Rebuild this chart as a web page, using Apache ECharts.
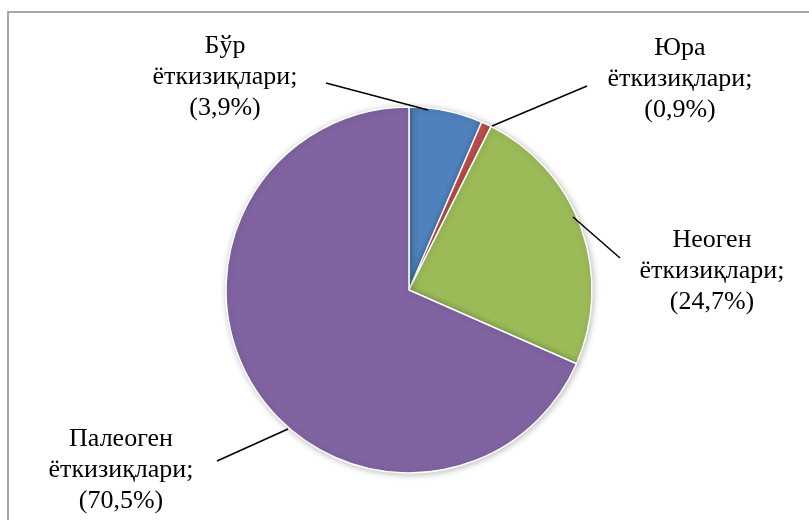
<!DOCTYPE html>
<html>
<head>
<meta charset="utf-8">
<script src="https://cdn.jsdelivr.net/npm/echarts@6/dist/echarts.min.js"></script>
<style>
  html, body { margin: 0; padding: 0; background: #fff; }
  #chart { width: 809px; height: 520px; }
</style>
</head>
<body>
<div id="chart"></div>
<script>
// slice names and label texts
var names = ['Бўр', 'Юра', 'Неоген', 'Палеоген'];
var suffix = 'ёткизиқлари;';
var pctText = ['(3,9%)', '(0,9%)', '(24,7%)', '(70,5%)'];
// slice sizes as drawn in the picture
var values = [6.5, 0.9, 24.2, 68.4];
var colors = ['#4F81BD', '#C0504D', '#9BBB59', '#8064A2'];

// label centres and leader lines (pie end first)
var labelPos = [[225, 77], [680, 79], [712, 271], [121, 470]];
var leaders = [
  [[428, 110], [326, 83]],
  [[492, 126], [587, 86]],
  [[573, 217], [620, 258]],
  [[288, 429], [217, 461]]
];

var chart = echarts.init(document.getElementById('chart'));

var graphics = [{
  type: 'rect',
  shape: { x: 8, y: 12, width: 820, height: 530 },
  style: { fill: 'none', stroke: '#8a8a8a', lineWidth: 1.5 },
  silent: true
}];
leaders.forEach(function (pts) {
  graphics.push({
    type: 'polyline',
    shape: { points: pts },
    style: { stroke: '#000', lineWidth: 1.5, fill: 'none' },
    z: 100,
    silent: true
  });
});

chart.setOption({
  animation: false,
  backgroundColor: '#fff',
  graphic: graphics,
  series: [{
    type: 'pie',
    center: [409, 290],
    radius: 183,
    startAngle: 90,
    clockwise: true,
    data: values.map(function (v, i) {
      return { value: v, name: names[i], itemStyle: { color: colors[i] } };
    }),
    itemStyle: {
      borderColor: '#fff',
      borderWidth: 1.5,
      shadowBlur: 6,
      shadowColor: 'rgba(0,0,0,0.25)',
      shadowOffsetX: 1,
      shadowOffsetY: 1
    },
    label: {
      show: true,
      position: 'outside',
      formatter: function (p) {
        return names[p.dataIndex] + '\n' + suffix + '\n' + pctText[p.dataIndex];
      },
      fontFamily: 'Liberation Serif',
      fontSize: 26,
      lineHeight: 31,
      color: '#000',
      align: 'center'
    },
    labelLine: { show: false },
    labelLayout: function (p) {
      var i = p.dataIndex;
      return {
        x: labelPos[i][0],
        y: labelPos[i][1],
        align: 'center',
        verticalAlign: 'middle'
      };
    },
    emphasis: { disabled: true }
  }]
});
</script>
</body>
</html>
